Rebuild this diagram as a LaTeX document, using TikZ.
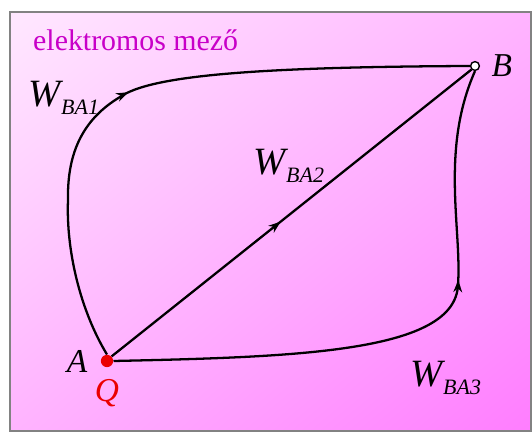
\documentclass[tikz,border=0pt]{standalone}
\usepackage{fontspec}
\setmainfont{Liberation Serif}
\usepackage{tikz}
\usetikzlibrary{arrows.meta, decorations.markings, positioning, shadings}
\definecolor{fieldpink}{RGB}{255,232,255}
\definecolor{fieldmid}{RGB}{255,180,255}
\definecolor{fielddeep}{RGB}{255,125,255}
\definecolor{labelmagenta}{RGB}{200,0,200}
\definecolor{chargered}{RGB}{235,0,0}
\definecolor{framegray}{RGB}{130,130,130}

\newcommand{\worksub}[1]{W\raisebox{-0.45ex}{\fontsize{12.5}{13}\selectfont #1}}

\tikzset{
  fieldpath/.style={line width=1.3pt, black},
  midarrow/.style={postaction={decorate, decoration={markings,
      mark=at position #1 with {\arrow{Stealth[length=7pt,width=5pt]}}}}},
  worklabel/.style={font=\fontsize{22}{25}\selectfont\itshape},
  pointlabel/.style={font=\fontsize{19}{22}\selectfont\itshape}
}

\begin{document}
\begin{tikzpicture}[x=0.02cm, y=-0.02cm]
        % Background field
        \useasboundingbox (0,0) rectangle (532,432);
        \shade[upper left=fieldpink, upper right=fieldmid, lower left=fieldmid, lower right=fielddeep]
          (10,12) rectangle (531,431);
        \draw[framegray, line width=1.2pt] (10,12) rectangle (531,431);
        \node[labelmagenta, anchor=west, font=\fontsize{17}{20}\selectfont] (title) at (27,40) {elektromos mező};

        % End points
        \node[circle, fill=chargered, inner sep=0pt, minimum size=7pt] (A) at (107,361) {};
        \node[circle, draw=black, fill=white, line width=0.8pt, inner sep=0pt, minimum size=5pt] (B) at (475,66) {};
        \node[pointlabel, left=4pt of A] (Alabel) {A};
        \node[pointlabel, chargered, below=3pt of A] (Qlabel) {Q};
        \node[pointlabel, right=3pt of B] (Blabel) {B};

        % Path 1
        \draw[fieldpath, midarrow=0.46] (A.north) .. controls (80,310) and (66,250) .. (68,200)
          .. controls (67,150) and (85,118) .. (120,97)
          .. controls (150,76) and (250,67) .. (B.west);
        \node[worklabel] (W1) at (64,98) {\worksub{BA1}};

        % Path 2
        \draw[fieldpath, midarrow=0.47] (A.north east) -- (B.south west);
        \node[worklabel] (W2) at (289,166) {\worksub{BA2}};

        % Path 3
        \draw[fieldpath, midarrow=0.64] (A.east) .. controls (300,357) and (455,352) .. (458,285)
          .. controls (462,230) and (440,150) .. (B.south);
        \node[worklabel] (W3) at (446,378) {\worksub{BA3}};
    \end{tikzpicture}
\end{document}
